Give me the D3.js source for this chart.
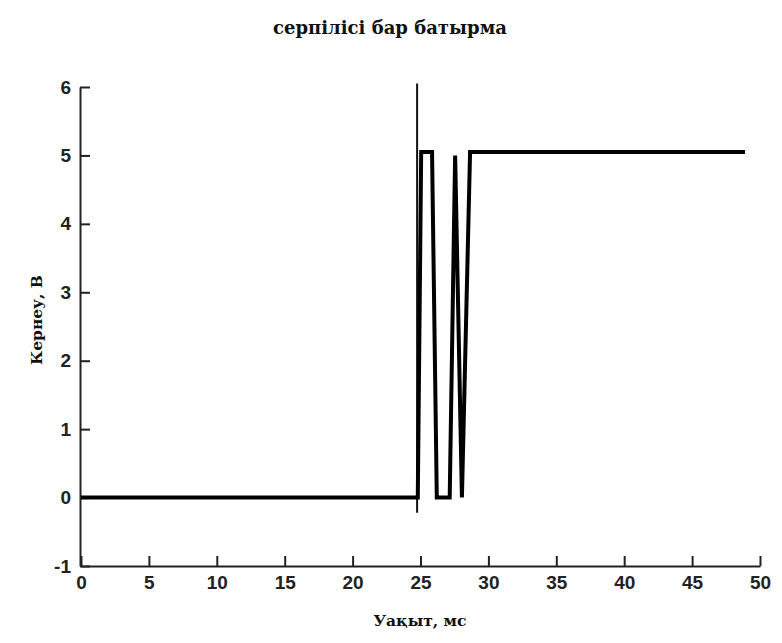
<!DOCTYPE html>
<html>
<head>
<meta charset="utf-8">
<script src="https://cdn.jsdelivr.net/npm/d3@7"></script>
<style>
  body { margin: 0; background: #fff; }
</style>
</head>
<body>
<div id="chart"></div>
<script>
// signal (time in ms, voltage in V)
const timeMs = [0, 24.8, 25.05, 25.85, 26.2, 27.15, 27.55, 28.05, 28.65, 48.9];
const voltage = [0, 0, 5.05, 5.05, 0, 0, 5.0, 0, 5.05, 5.05];
const markerTime = 24.75;
const markerRange = [-0.22, 6.05];
const xTicks = [0, 5, 10, 15, 20, 25, 30, 35, 40, 45, 50];
const yTicks = [-1, 0, 1, 2, 3, 4, 5, 6];

const width = 782, height = 643;
const margin = { top: 87, right: 22, bottom: 77, left: 81 };

const x = d3.scaleLinear().domain([0, 50]).range([margin.left, width - margin.right]);
const y = d3.scaleLinear().domain([-1, 6]).range([height - margin.bottom, margin.top]);

const svg = d3.select("#chart").append("svg")
  .attr("width", width)
  .attr("height", height)
  .style("font-family", "'Liberation Sans', Arial, sans-serif");

svg.append("text")
  .attr("x", 390)
  .attr("y", 34)
  .attr("text-anchor", "middle")
  .attr("font-family", "'DejaVu Serif', serif")
  .attr("font-weight", "bold")
  .attr("font-size", 18)
  .attr("fill", "#111")
  .text("серпілісі бар батырма");

// x axis
const xAxis = svg.append("g")
  .attr("transform", `translate(0,${y(-1)})`)
  .call(d3.axisBottom(x).tickValues(xTicks).tickFormat(d => String(d))
    .tickSizeInner(-10).tickSizeOuter(0).tickPadding(10));

// y axis
const yAxis = svg.append("g")
  .attr("transform", `translate(${x(0) - 1},0)`)
  .call(d3.axisLeft(y).tickValues(yTicks).tickFormat(d => String(d))
    .tickSizeInner(-10).tickSizeOuter(0).tickPadding(18));

[xAxis, yAxis].forEach(g => {
  g.select(".domain").attr("stroke", "#222").attr("stroke-width", 2);
  g.selectAll(".tick line").attr("stroke", "#222").attr("stroke-width", 2);
  g.selectAll(".tick text")
    .attr("fill", "#222")
    .attr("font-size", 19)
    .attr("font-weight", "bold")
    .attr("font-family", "'Liberation Sans', Arial, sans-serif");
});
yAxis.selectAll(".tick text").attr("dx", 9);

// trigger marker
svg.append("line")
  .attr("x1", x(markerTime)).attr("x2", x(markerTime))
  .attr("y1", y(markerRange[1])).attr("y2", y(markerRange[0]))
  .attr("stroke", "#111")
  .attr("stroke-width", 2);

// signal
const line = d3.line()
  .x((d, i) => x(timeMs[i]))
  .y((d, i) => y(voltage[i]));

svg.append("path")
  .datum(voltage)
  .attr("fill", "none")
  .attr("stroke", "#000")
  .attr("stroke-width", 4)
  .attr("stroke-linejoin", "miter")
  .attr("d", line);

svg.append("text")
  .attr("x", 420)
  .attr("y", 626)
  .attr("text-anchor", "middle")
  .attr("font-family", "'DejaVu Serif', serif")
  .attr("font-weight", "bold")
  .attr("font-size", 15.5)
  .attr("fill", "#111")
  .text("Уақыт, мс");

svg.append("text")
  .attr("transform", `translate(42,320) rotate(-90)`)
  .attr("text-anchor", "middle")
  .attr("font-family", "'DejaVu Serif', serif")
  .attr("font-weight", "bold")
  .attr("font-size", 15.5)
  .attr("fill", "#111")
  .text("Кернеу, В");
</script>
</body>
</html>
